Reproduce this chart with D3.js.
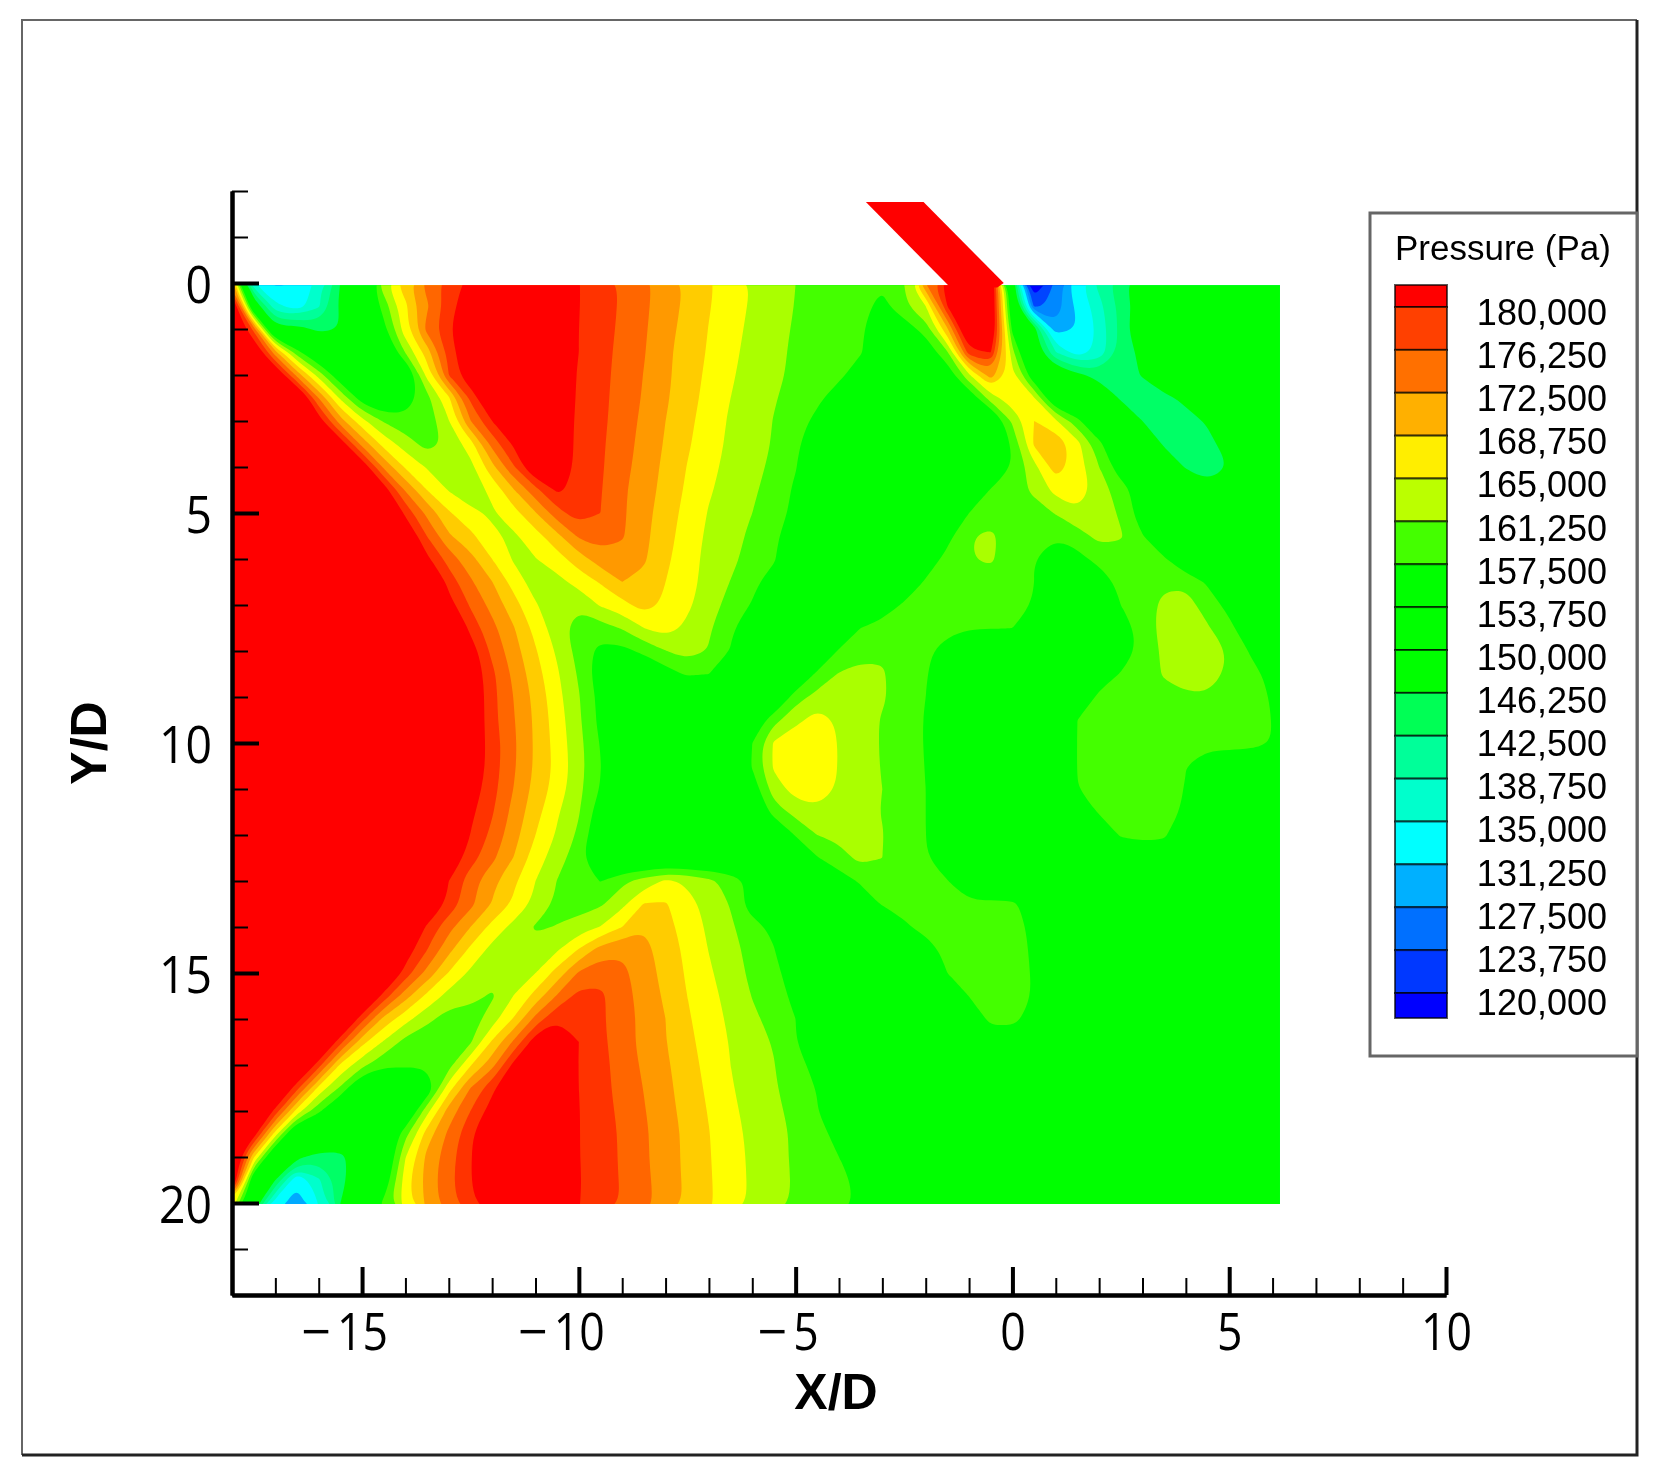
<!DOCTYPE html>
<html>
<head>
<meta charset="utf-8">
<script src="https://cdn.jsdelivr.net/npm/d3@7"></script>
<style>
html, body { margin: 0; padding: 0; background: #fff; }
svg { display: block; filter: blur(0.7px); }
.tick-label { font-family: "Open Sans", sans-serif; font-size: 52px; fill: #000; }
</style>
</head>
<body>
<script>
var width = 1659, height = 1479;

// pressure, in kPa. rows are Y/D 0..20, columns are X/D -18..6, both every 0.5
var pressure = [
[170,137,132,133,139,146,150,162.4,168,173,  176.4,179,183,183,183,179.8,178.1,176.4,174.6,172.7,  170.6,168.5,166.4,164.5,162.8,161.5,160,159.5,159,158.5,  157.5,160,172,180,184,184,150,118,128,136,  141,145,149,152,152,152,152,152,152],
[185,150,138,135,139.5,147,152,158.2,165.3,171.6,  176.4,181,185,185,185,179.8,178.1,176.3,174.6,172.6,  170.4,168.3,166.2,164.3,162.6,161.2,159.9,159.3,158.8,158,  156,159.5,163,178,183,183,152,126,128,134,  139,144,148,152,152,152,152,152,152],
[185,174,147,148,145,146,152,156,165,173,  177.6,181.5,185,185,185,179.8,178,176.2,174.4,172.4,  170,168,165.9,164,162.3,160.9,159.7,159,158.3,157.4,  155,155,158.4,168.6,184,184,156,148,131,133,  138,144,150,152,152,152,152,152,152],
[185,183,170,158,152,152,152,152,160.3,167.6,  176,182,185,185,185,179.7,178,176,174.2,172.2,  169.7,167.6,165.7,163.8,161.9,160.6,159.6,158.8,158,157.3,  154,153,154.5,159.7,177,178.2,161,149,140,135,  138,144,147,152,152,152,152,152,152],
[185,185,183,171,161.7,154,152,152,152,164,  175,181,185,185,185,179.5,177.8,175.9,174,171.9,  169.6,167.5,165.3,163.4,161.7,160.4,159.6,158.8,157.8,155,  153,152,152,154.5,162.5,170.5,164,154,150,147,  144.5,145,146.2,150,152,152,152,152,152],
[185,185,185,185,172,162.5,155,152,155,159,  165.4,175.7,183,185,185,179.7,177.7,175.8,173.8,171.7,  169.4,167.2,165,163,161.2,160.2,159,157.8,155,152,  152,152,152,152,154,161.5,165,163.2,152,151,  150,145.5,144.5,145,147,151,152,152,152],
[185,185,185,185,180,170.3,164,159.7,158,158,  162.9,171.9,178,183,185,179.4,177.6,175.7,173.6,171.3,  169,166.8,164.5,162.6,161.1,159.9,158.5,156,152,152,  152,152,152,152,152,152,160.5,166,163.5,158,  152,150,146,144.7,144.5,146.5,151,152,152],
[185,185,185,185,185,180.4,171,164.9,161.6,158.8,  160.7,164.6,173,178.6,184,179.5,177.5,175.5,173.3,171,  168.7,166.4,164.3,162.4,161,159.8,157.8,154,152,152,  152,152,152,152,152,152,157.6,166.5,168.3,164,  158,152,150,145.5,144.5,144.7,148,152,152],
[185,185,185,185,185,185,181,171.4,165.6,162.7,  161,162,168.1,174.7,182,179.5,177.4,175.4,173,170.7,  168.3,165.9,163.7,162.2,160.7,159.5,157.2,153,152,152,  152,152,152,152,152,152,157,162,167.5,164.5,  160,155,152,149,145.7,144.5,146,150,152],
[185,185,185,185,185,185,185,180,171.7,166,  162.8,161.5,163.7,168.8,174,178.6,177,175.2,172.5,170.4,  168,165.5,163.3,161.9,160.4,159,156.4,152,152,152,  152,152,152,152,152,157.3,158.5,160.7,164,165,  161.5,158.5,155,152,150,147,147,152,152],
[185,185,185,185,185,185,185,185,177.2,171.2,  166.4,163.6,162.6,164.9,168.8,173.8,176.7,175,172.5,170,  167.5,165,162.8,161.5,160,158.7,156,152,152,152,  152,152,152,152,157,158,158,158.5,160.2,162.5,  161.8,159.5,155,152,152,152,152,152,152],
[185,185,185,185,185,185,185,185,182,174.9,  169.4,166.8,163.5,162.5,164.8,168.2,172.5,173.5,172.3,169.8,  167.1,164.6,162.4,161,159.4,157.9,154,152,152,152,  152,152,152,156,159.8,160.8,158,157.5,157.2,158.5,  161,160.3,157.2,152,152,152,152,152,152],
[185,185,185,185,185,185,185,185,185,178.8,  173.7,170,166,162.6,162.9,164.7,167.6,170.6,171,169.4,  166.7,164.1,162.2,160.7,158.9,157.5,152,152,152,152,  152,152,155,158,159.9,160.4,158.4,157,155,156,  158,158.7,158.5,157.5,153,152,152,152,152],
[185,185,185,185,185,185,185,185,185,185,  176.8,172.5,169.1,164.8,161.5,162,164.2,166.3,169,168.3,  166,164,162,159.9,158,155,152,152,152,152,  152,154,157.4,158.7,159,158.9,158.5,157,153,152,  155,158,158.9,159.6,159.5,156.5,152,152,152],
[185,185,185,185,185,185,185,185,185,185,  179.5,174.6,171,167.2,163.3,161,160.5,163.3,165,167.2,  165.5,163.6,161.2,159,156.7,152,152,152,152,152,  155,157.5,158.5,159,159,158.8,158.3,156.8,152,152,  152,157,158.9,160.6,161,158.9,155.8,152,152],
[185,185,185,185,185,185,185,185,185,185,  185,177,172.9,169.2,165,161.3,158.5,158.8,160.2,163,  164.4,162.3,160.4,157.7,154,152,152,152,152,157,  158.3,159,158.7,158,157.3,157.2,157,154,152,152,  152,155,158.5,161,161.5,160.3,158,154,152],
[185,185,185,185,185,185,185,185,185,185,  185,180,174.2,170.3,166.3,162.5,158.9,156,156,157.8,  159.9,161.3,159.8,156.8,152,152,152,152,157.5,158.9,  159.6,159,157.7,155.5,152,152,152,152,152,152,  152,155,158,160.6,161.6,161.2,159.8,156.6,152],
[185,185,185,185,185,185,185,185,185,185,  185,181,175.7,171.3,167.3,163.4,159.6,155,152,153,  155.5,157.5,157,153,152,152,152,157.8,160.2,161,  160.3,158.5,157.3,154,152,152,152,152,152,152,  155,157.2,158.5,160.3,161.5,161.3,159.5,158,156],
[185,185,185,185,185,185,185,185,185,185,  185,181.5,176,171.9,168.1,164,160.2,156,152,152,  152,152,152,152,152,152,158.8,161,162,161.5,  160.3,158.8,157,152,152,152,152,152,152,154,  157.7,158.3,158.7,159,159.5,159.7,159.5,158.3,156.7],
[185,185,185,185,185,185,185,185,185,185,  185,181.5,176,172.2,168.4,164.5,160.5,156,152,152,  152,152,152,152,154,159,162,164.5,162.5,161.2,  159.8,158.4,156.8,152,152,152,152,152,152,157,  158.5,159,159.3,159.5,159.5,159.5,159.2,158.7,156.9],
[185,185,185,185,185,185,185,185,185,185,  185,181,176.6,172.5,168.5,164.8,160.9,156.8,152,152,  152,152,152,152,157,163.4,165.6,165.6,162.8,161.5,  159.7,158.4,156.8,152,152,152,152,152,152,157.1,  158.7,159.2,159.5,159.7,159.7,159.5,159.2,158.7,156.9],
[185,185,185,185,185,185,185,185,185,185,  185,181,176.5,172.4,168.5,165.1,161.1,157.1,152,152,  152,152,152,152,157.3,163.5,165.6,165.6,162.8,161.5,  159.8,158.5,156.9,152,152,152,152,152,152,157.1,  158.5,159,159,158.5,157.1,152,152,152,152],
[185,185,185,185,185,185,185,185,185,185,  185,180,176.1,171.9,168,164.7,160.8,156.8,152,152,  152,152,152,152,155,161.5,164.3,165,162.6,161.3,  160,158.6,157,152,152,152,152,152,152,156.9,  158.3,158.9,159,158.5,156.8,152,152,152,152],
[185,185,185,185,185,185,185,185,185,185,  185,178.8,175.3,171,167.1,163.4,160.2,155,152,152,  152,152,152,152,152,158.5,161,162.3,161.5,160.8,  159.9,158.5,157,152,152,152,152,152,152,152,  157.6,158.5,158.6,158.2,156.5,152,152,152,152],
[185,185,185,185,185,185,185,185,185,185,  185,177.9,174.2,170.2,166,162.6,159.4,154,152,152,  152,152,152,152,152,152,157.3,160,160.8,160.7,  160.1,158.5,157,152,152,152,152,152,152,152,  152,157.6,158,157.7,152,152,152,152,152],
[185,185,185,185,185,185,185,185,185,185,  181,176.4,172.7,168.9,164.5,161.4,158.2,152,152,152,  152,152,152,152,152,152,152,156.8,158.7,160.9,  160,158.7,157.3,154,152,152,152,152,152,152,  152,152,154,154,152,152,152,152,152],
[185,185,185,185,185,185,185,185,185,185,  178,173.2,169.9,166.6,163,159.9,158,156.9,159.3,161.2,  163.5,162.5,160.8,158.8,156,152,152,152,155.5,157.4,  158,158.2,158,157.2,152,152,152,152,152,152,  152,152,152,152,152,152,152,152,152],
[185,185,185,185,185,185,185,185,185,183,  177,172.9,168.8,165.4,162.2,159.4,158.5,159.5,162.2,166.2,  166.3,164,162,159.8,155,152,152,152,152,155,  157.3,158,158.2,158.2,158,158,157.7,155,152,152,  152,152,152,152,152,152,152,152,152],
[185,185,185,185,185,185,185,185,185,177.3,  173,169,165,162,159.7,160.1,161.5,163.1,166,168.8,  167.1,164.6,162.5,160.4,158.4,156,152,152,152,152,  152,156.5,158,158.5,158.6,158.6,158.5,156,152,152,  152,152,152,152,152,152,152,152,152],
[185,185,185,185,185,185,185,185,180,175,  169.8,165.3,162,161,161,162.7,166.3,170.5,171.5,170,  167.6,165.3,162.9,161,159,157.2,152,152,152,152,  152,152,155.5,158,158.6,158.7,158.3,156.5,152,152,  152,152,152,152,152,152,152,152,152],
[185,185,185,185,185,185,185,184,176.7,171,  165.8,162.4,161.5,161.5,163,167.2,172.4,174,172.8,170.4,  168,165.6,163.5,161.2,159.4,158,155,152,152,152,  152,152,152,157,158.4,158.8,158.3,156.7,152,152,  152,152,152,152,152,152,152,152,152],
[185,185,185,185,185,185,185,176.8,170.2,165.2,  161.9,161,159.6,163.1,167.1,172.3,176,175.6,173.2,170.8,  168.5,166,164,161.9,159.9,158,156.4,152,152,152,  152,152,152,152,157.1,158.5,158.2,156.8,152,152,  152,152,152,152,152,152,152,152,152],
[185,185,185,185,185,185,176,168.1,164,160.9,  158.5,158.5,161.5,166.3,173,177.9,177.9,175.5,173.3,171.2,  169,166.4,164.4,162.4,160.5,159.2,157,152,152,152,  152,152,152,152,154,157.9,158,155.5,152,152,  152,152,152,152,152,152,152,152,152],
[185,185,185,185,185,176,167,162.7,158.9,157.5,  158,159.6,166.5,172.6,180,183,178,175.7,173.5,171,  169.1,166.8,164.7,162.8,161,159.8,157.2,152,152,152,  152,152,152,152,152,154.5,154.5,152,152,152,  152,152,152,152,152,152,152,152,152],
[185,185,185,185,176.3,165.5,160.9,157.6,157.6,157.5,  158.8,165.7,170.9,179,184,183,177.9,176,173.7,171.5,  169.5,167.3,165,163,161.4,160.1,158,156,152,152,  152,152,152,152,152,152,152,152,152,152,  152,152,152,152,152,152,152,152,152],
[185,185,185,176,165.2,159.5,152,152,152,154,  164.7,172,177.2,182,185,184,178,176,174,171.9,  169.8,167.6,165.4,163.3,161.6,160.3,158.7,156.8,152,152,  152,152,152,152,152,152,152,152,152,152,  152,152,152,152,152,152,152,152,152],
[185,185,177,164.8,157.6,152,152,152,152,162,  170.3,175,179.5,184,185,185,178.1,176.2,174.3,172.2,  170.1,167.9,165.8,163.7,161.9,160.7,159.1,157.2,152,152,  152,152,152,152,152,152,152,152,152,152,  152,152,152,152,152,152,152,152,152],
[185,180,164.4,150,152,152,152,152,159,167.5,  172.7,177.3,183,185,185,185,178.1,176.3,174.6,172.5,  170.4,168.3,166.1,164,162.3,161,159.5,158,156,152,  152,152,152,152,152,152,152,152,152,152,  152,152,152,152,152,152,152,152,152],
[185,166.5,150,147,144.5,144.5,150,152,162.9,169.8,  173.7,177.7,183,185,185,185,178.1,176.4,174.6,172.5,  170.4,168.3,166.2,164.3,162.4,160.8,159.6,158.7,157,152,  152,152,152,152,152,152,152,152,152,152,  152,152,152,152,152,152,152,152,152],
[185,152,146,134,139.5,144.5,150,154,164.6,170.2,  174.1,177.8,183,185,185,185,178.2,176.5,174.7,172.7,  170.6,168.4,166.3,164.4,162.5,161,159.7,158.9,158,156,  152,152,152,152,152,152,152,152,152,152,  152,152,152,152,152,152,152,152,152],
[165,150,135,131,137,146,152,157.8,164.5,169.8,  173.9,176.8,182,185,185,185,178.1,176.6,174.8,172.9,  170.7,168.5,166.4,164.4,162.5,160.9,159.6,158.7,157.8,156.5,  152,152,152,152,152,152,152,152,152,152,  152,152,152,152,152,152,152,152,152]
];

// band floors in kPa and the colour above each floor
var bandFloors = [0,123,127,130,133,137,140,143,146,157,160,163,166,169,172,175,178];
var bandColors = ["#0000ff","#0044ff","#0088ff","#00aaff","#00ffff","#00ffcc","#00ff99","#00ff66","#00ff00","#44ff00","#aaff00","#ffff00","#ffcc00","#ff9900","#ff6600","#ff3300","#ff0000"];

var legendLabels = ["180,000","176,250","172,500","168,750","165,000","161,250","157,500","153,750","150,000","146,250","142,500","138,750","135,000","131,250","127,500","123,750","120,000"];
var legendColors = ["#ff0000","#ff4000","#ff7000","#ffb000","#ffee00","#bbff00","#44ff00","#00ff00","#00ff00","#00ff00","#00ff55","#00ff99","#00ffcc","#00ffff","#00b0ff","#0070ff","#0038ff","#0000ff"];

var xMajor = [-15,-10,-5,0,5,10];
var yMajor = [0,5,10,15,20];

// injector outline, X/D and Y/D
var nozzleX = [-3.38,-2.05,-0.2,-0.35,-1.43];
var nozzleY = [-1.76,-1.76,0,0.1,0.1];

var svg = d3.select("body").append("svg")
	.attr("width", width)
	.attr("height", height);

svg.append("rect").attr("width", width).attr("height", height).attr("fill", "#fff");

var x = d3.scaleLinear().domain([-18, 10]).range([232, 1446]),
	y = d3.scaleLinear().domain([-2, 22]).range([191, 1295]);

// outer frame
svg.append("path").attr("d", "M22,1455V20H1637").attr("fill", "none").attr("stroke", "#666").attr("stroke-width", 2);
svg.append("path").attr("d", "M22,1455H1637V20").attr("fill", "none").attr("stroke", "#222").attr("stroke-width", 3);

// contours
var nRows = pressure.length, nCols = pressure[0].length;
var contours = d3.contours().size([nCols, nRows]).thresholds(bandFloors)(d3.merge(pressure));

// contour rings come back in grid cells, the curve takes the corners off the cell steps
var ringLine = d3.line()
	.x(function(d) { return x(-18 + (d[0] - 0.5) * 0.5); })
	.y(function(d) { return y((d[1] - 0.5) * 0.5); })
	.curve(d3.curveBasisClosed);

function contourPath(c) {
	var d = "";
	c.coordinates.forEach(function(polygon) {
		polygon.forEach(function(ring) {
			d += ringLine(ring.slice(0, -1));
		});
	});
	return d;
}

svg.append("clipPath").attr("id", "field")
	.append("rect")
	.attr("x", x(-18)).attr("y", y(0.05))
	.attr("width", x(6.17) - x(-18)).attr("height", y(20.02) - y(0.05));

var field = svg.append("g").attr("clip-path", "url(#field)");

field.append("rect")
	.attr("x", x(-18)).attr("y", y(0))
	.attr("width", x(6.17) - x(-18)).attr("height", y(20.02) - y(0))
	.attr("fill", "#00ff00");

field.selectAll(".band")
	.data(contours)
	.enter().append("path")
	.attr("class", "band")
	.attr("d", contourPath)
	.attr("fill-rule", "evenodd")
	.attr("fill", function(d, i) { return bandColors[i]; });

svg.append("path")
	.attr("d", d3.line().x(function(d) { return x(d); }).y(function(d, i) { return y(nozzleY[i]); })(nozzleX) + "Z")
	.attr("fill", "#ff0000");

// axes
function xAxisTicks(values, size, sw) {
	var g = svg.append("g")
		.attr("transform", "translate(0," + y(22) + ")")
		.call(d3.axisBottom(x).tickValues(values).tickSizeInner(-size).tickSizeOuter(0).tickPadding(18));
	g.select(".domain").attr("stroke", "#000").attr("stroke-width", 4);
	g.selectAll(".tick line").attr("stroke", "#000").attr("stroke-width", sw);
	return g;
}
function yAxisTicks(values, size, sw) {
	var g = svg.append("g")
		.attr("transform", "translate(" + x(-18) + ",0)")
		.call(d3.axisLeft(y).tickValues(values).tickSizeInner(-size).tickSizeOuter(0).tickPadding(20));
	g.select(".domain").attr("stroke", "#000").attr("stroke-width", 4);
	g.selectAll(".tick line").attr("stroke", "#000").attr("stroke-width", sw);
	return g;
}

var xMinor = d3.range(-17, 10).filter(function(d) { return xMajor.indexOf(d) < 0; });
var yMinor = d3.range(-2, 23).filter(function(d) { return yMajor.indexOf(d) < 0; });

xAxisTicks(xMinor, 17, 2).selectAll("text").remove();
yAxisTicks(yMinor, 16, 2).selectAll("text").remove();

var xg = xAxisTicks(xMajor, 28, 4);
xg.selectAll("text")
	.attr("class", "tick-label").attr("font-family", null).attr("font-size", null)
	.attr("dx", function(d) { return d === 5 ? -3 : d === -5 ? -8 : d < 0 ? -18 : 0; })
	.text(null);
xg.selectAll(".tick text").each(function(d) {
	var t = d3.select(this), digits = String(Math.abs(d));
	if (d < 0) t.append("tspan").text("\u2212");
	t.append("tspan")
		.attr("dx", d < 0 ? 6 : 0)
		.attr("textLength", digits.length * 25.5)
		.attr("lengthAdjust", "spacingAndGlyphs")
		.text(digits);
});

var yg = yAxisTicks(yMajor, 27, 4);
yg.selectAll("text")
	.attr("class", "tick-label").attr("font-family", null).attr("font-size", null)
	.attr("y", 3)
	.attr("textLength", function(d) { return String(d).length * 26.5; })
	.attr("lengthAdjust", "spacingAndGlyphs");

svg.append("text")
	.attr("x", 836).attr("y", 1409)
	.attr("text-anchor", "middle")
	.attr("font-family", "'Liberation Sans', sans-serif")
	.attr("font-weight", "bold").attr("font-size", 50)
	.text("X/D");

svg.append("text")
	.attr("transform", "translate(106,743) rotate(-90)")
	.attr("text-anchor", "middle")
	.attr("font-family", "'Liberation Sans', sans-serif")
	.attr("font-weight", "bold").attr("font-size", 50)
	.text("Y/D");

// legend
var legend = svg.append("g");
legend.append("rect")
	.attr("x", 1370).attr("y", 213).attr("width", 267).attr("height", 843)
	.attr("fill", "#fff").attr("stroke", "#666").attr("stroke-width", 3);

legend.append("text")
	.attr("x", 1395).attr("y", 260)
	.attr("font-family", "'Liberation Sans', sans-serif")
	.attr("font-size", 35)
	.text("Pressure (Pa)");

var edge = d3.scaleLinear().domain([0, 16]).range([307, 993]);
var labelY = d3.scaleLinear().domain([0, 16]).range([312, 1002]);

legend.selectAll(".swatch")
	.data(legendColors)
	.enter().append("rect")
	.attr("class", "swatch")
	.attr("x", 1395).attr("width", 52)
	.attr("y", function(d, i) { return i === 0 ? 285 : edge(i - 1); })
	.attr("height", function(d, i) { return (i === 17 ? 1018 : edge(i)) - (i === 0 ? 285 : edge(i - 1)); })
	.attr("fill", function(d) { return d; })
	.attr("stroke", "#000").attr("stroke-opacity", 0.65).attr("stroke-width", 2);

legend.selectAll(".value")
	.data(legendLabels)
	.enter().append("text")
	.attr("class", "value")
	.attr("x", 1607)
	.attr("y", function(d, i) { return labelY(i); })
	.attr("dy", "0.36em")
	.attr("text-anchor", "end")
	.attr("font-family", "'Liberation Sans', sans-serif")
	.attr("font-size", 36)
	.text(function(d) { return d; });
</script>
</body>
</html>
